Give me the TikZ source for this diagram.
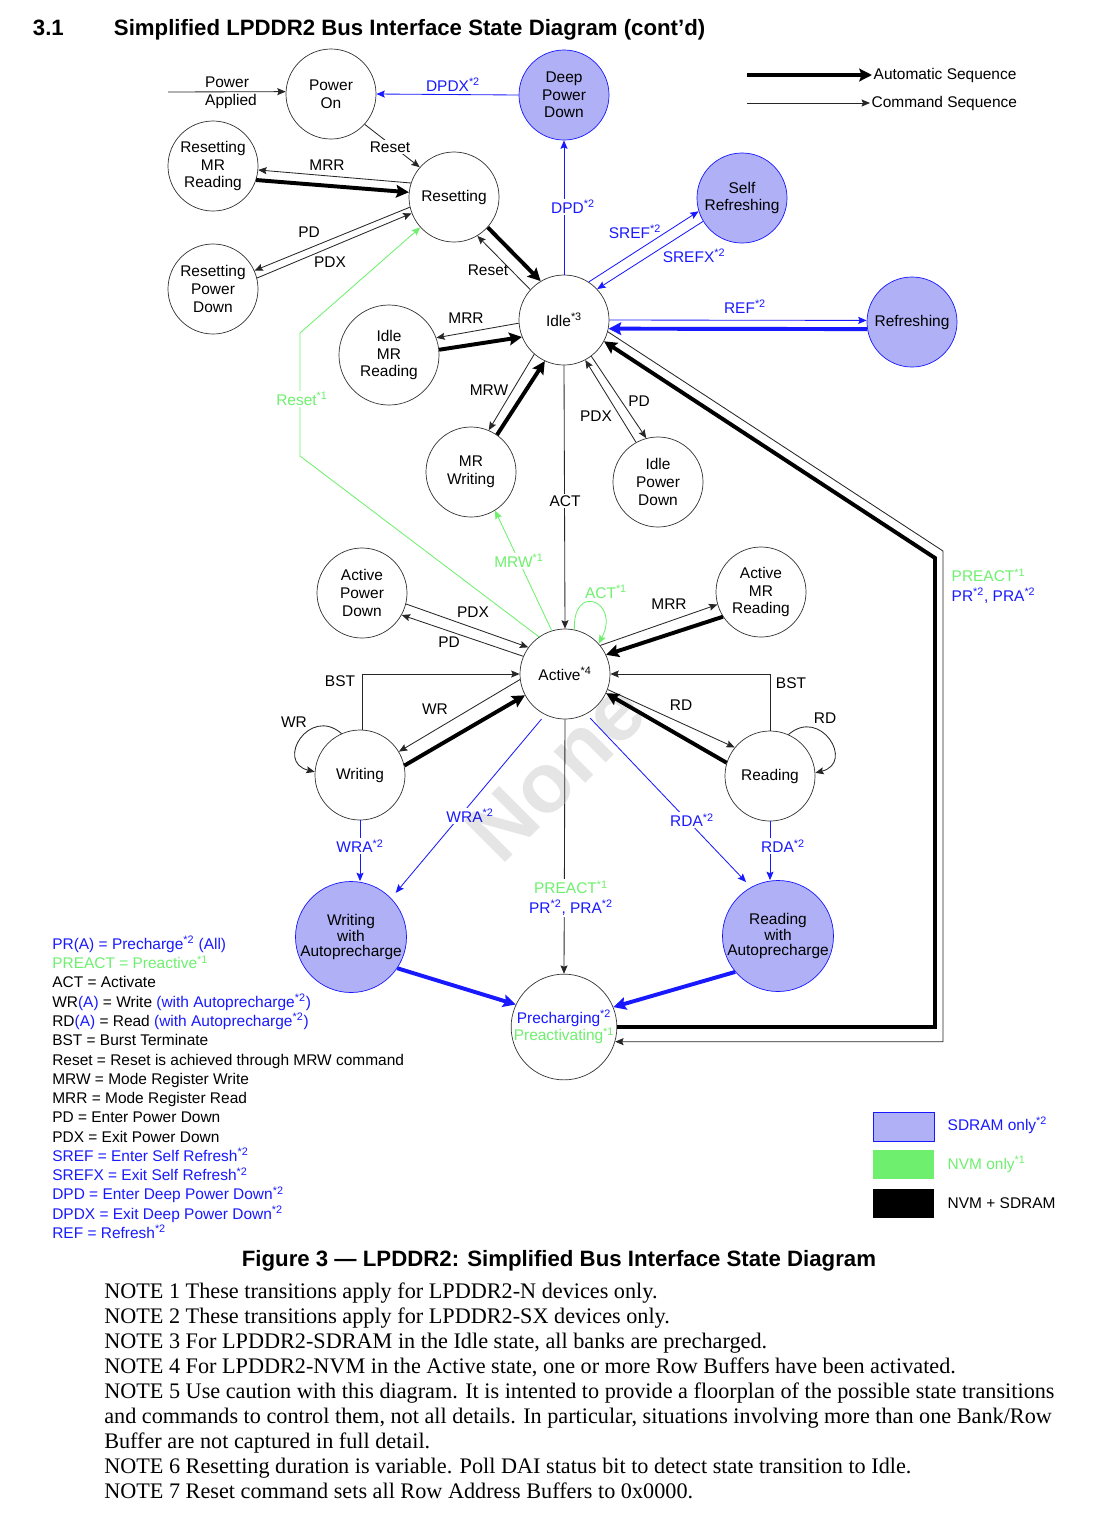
\documentclass[tikz,border=0pt]{standalone}
\usepackage{fontspec}
\setmainfont{Liberation Sans}
\newfontfamily\notefont{Liberation Serif}
\usetikzlibrary{arrows.meta}
\definecolor{sdram}{RGB}{25,25,255}
\definecolor{sdfill}{RGB}{176,176,246}
\definecolor{nvm}{RGB}{110,240,110}
\newcommand{\snote}[1]{\textsuperscript{*#1}}

\begin{document}
\begin{tikzpicture}[x=0.025cm,y=-0.025cm,
  stnode/.style={circle,draw=black!80,line width=0.5pt,fill=white,minimum size=2.25cm,inner sep=0pt,align=center,font=\fontsize{11}{12.5}\selectfont},
  sdnode/.style={stnode,draw=sdram,fill=sdfill},
  apnode/.style={sdnode,minimum size=2.75cm,font=\fontsize{11}{11.2}\selectfont},
  lbl/.style={inner sep=1pt,font=\fontsize{11}{13}\selectfont},
  cmdseq/.style={draw=black!85,line width=0.6pt,-{Stealth[length=6pt,width=5pt,inset=1pt]}},
  autoseq/.style={line width=2.8pt,-{Stealth[length=9pt,width=9pt,inset=1.5pt]}},
  sdcmd/.style={cmdseq,draw=sdram},
  sdauto/.style={autoseq,draw=sdram},
  nvmcmd/.style={cmdseq,draw=nvm}]
\useasboundingbox (0,0) rectangle (1104,1522);

% titre
\node[anchor=base west,font=\fontsize{15.8}{18}\selectfont\bfseries] (secno) at (28,35) {3.1};
\node[anchor=base west,font=\fontsize{15.8}{18}\selectfont\bfseries] (title) at (109,35) {Simplified LPDDR2 Bus Interface State Diagram (cont'd)};

% etats
\node[stnode] (pon) at (331,94) {Power\\On};
\node[sdnode] (dpd) at (564,95) {Deep\\Power\\Down};
\node[stnode] (rmrr) at (213,166) {Resetting\\MR\\Reading};
\node[stnode] (rst) at (454,197) {Resetting};
\node[stnode] (rpd) at (213,289) {Resetting\\Power\\Down};
\node[sdnode] (sref) at (742,198) {Self\\Refreshing};
\node[stnode] (idle) at (564,320) {Idle\snote{3}};
\node[sdnode] (ref) at (912,322) {Refreshing};
\node[stnode,minimum size=2.5cm] (imrr) at (389,355) {Idle\\MR\\Reading};
\node[stnode] (mrw) at (471,472) {MR\\Writing};
\node[stnode] (ipd) at (658,482) {Idle\\Power\\Down};
\node[stnode] (apd) at (362,593) {Active\\Power\\Down};
\node[stnode] (amrr) at (761,592) {Active\\MR\\Reading};
\node[stnode] (act) at (565,674) {Active\snote{4}};
\node[stnode] (wr) at (360,775) {Writing};
\node[stnode] (rd) at (770,776) {Reading};
\node[apnode] (wra) at (351,937) {Writing\\with\\Autoprecharge};
\node[apnode] (rda) at (778,936) {Reading\\with\\Autoprecharge};
\node[stnode,minimum size=2.6cm] (pre) at (564,1027) {\color{sdram}Precharging\snote{2}\\\color{nvm}Preactivating\snote{1}};

% fleches : mise sous tension / reset
\coordinate (pwrin) at (168,92);
\draw[cmdseq] (pwrin) -- (pon.177);
\draw[sdcmd] (dpd.180) -- (pon.0);
\draw[cmdseq] (pon.-42) -- (rst.139);
\draw[cmdseq] (rst.162) -- (rmrr.-5);
\draw[autoseq] (rmrr.-18) -- (rst.174);
\draw[cmdseq] (rst.193) -- (rpd.24);
\draw[cmdseq] (rpd.14) -- (rst.201);
\draw[autoseq] (rst.-42) -- (idle.121);
\draw[cmdseq] (idle.138) -- (rst.-59);
\coordinate (rsa) at (300,456);
\coordinate (rsb) at (300,333);
\draw[nvmcmd] (act.125) -- (rsa) -- (rsb) -- (rst.222);

% fleches : idle
\draw[sdcmd] (idle.north) -- (dpd.south);
\draw[sdcmd] (idle.57) -- (sref.197);
\draw[sdcmd] (sref.211) -- (idle.43);
\draw[sdcmd] (idle.0) -- (ref.178);
\draw[sdauto] (ref.189) -- (idle.-11);
\draw[cmdseq] (idle.184) -- (imrr.20);
\draw[autoseq] (imrr.6) -- (idle.202);
\draw[cmdseq] (idle.229) -- (mrw.67);
\draw[autoseq] (mrw.55) -- (idle.245);
\draw[cmdseq] (idle.-53) -- (ipd.105);
\draw[cmdseq] (ipd.119) -- (idle.-62);
\draw[cmdseq] (idle.south) -- (act.north);

% fleches : active
\draw[cmdseq] (apd.-14) -- (act.144);
\draw[cmdseq] (act.157) -- (apd.-29);
\draw[nvmcmd] (act.107) -- (mrw.-58);
\draw[nvmcmd] (act.78) .. controls +(-2,-48) and +(22,-42) .. (act.42);
\draw[cmdseq] (act.39) -- (amrr.196);
\draw[autoseq] (amrr.213) -- (act.25);
\draw[cmdseq] (wr.87) |- (act.180);
\draw[cmdseq] (rd.90) |- (act.0);
\draw[cmdseq] (act.187) -- (wr.31);
\draw[autoseq] (wr.12) -- (act.208);
\draw[cmdseq] (act.-20) -- (rd.141);
\draw[autoseq] (rd.163) -- (act.-25);
\draw[cmdseq] (wr.114) .. controls +(-32,-28) and +(-40,-10) .. (wr.176);
\draw[cmdseq] (rd.66) .. controls +(32,-28) and +(40,-10) .. (rd.4);

% fleches : precharge
\draw[sdcmd] (wr.south) -- (wr.south |- wra.north);
\draw[sdcmd] (rd.south) -- (rd.south |- rda.north);
\draw[sdcmd,shorten <=4pt,shorten >=5pt] (act.244) -- (wra.44);
\draw[sdcmd,shorten <=4pt,shorten >=5pt] (act.-62) -- (rda.119);
\draw[cmdseq] (act.south) -- (pre.north);
\draw[sdauto] (wra.-34) -- (pre.155);
\draw[sdauto] (rda.220) -- (pre.22);
\coordinate (thk) at (935,558);
\coordinate (thn) at (943,551);
\draw[autoseq] (pre.0) -| (thk) -- (idle.-28);
\draw[cmdseq] (idle.-15) -- (thn) |- (pre.-16);

% etiquettes
\node[lbl] (lpw) at (227,82) {Power};
\node[lbl] (lap) at (231,101) {Applied};
\node[lbl,text=sdram] (ldpdx) at (453,85) {DPDX\snote{2}};
\node[lbl,fill=white] (lrst1) at (390,147) {Reset};
\node[lbl] (lmrr1) at (327,165) {MRR};
\node[lbl] (lpd1) at (309,232) {PD};
\node[lbl] (lpdx1) at (330,262) {PDX};
\node[lbl] (lrst2) at (488,270) {Reset};
\node[lbl,text=sdram,fill=white] (ldpd) at (573,207) {DPD\snote{2}};
\node[lbl,text=sdram] (lsref) at (635,232) {SREF\snote{2}};
\node[lbl,text=sdram] (lsrefx) at (694,256) {SREFX\snote{2}};
\node[lbl,text=sdram] (lref) at (745,307) {REF\snote{2}};
\node[lbl] (lmrr2) at (466,318) {MRR};
\node[lbl] (lmrw) at (489,390) {MRW};
\node[lbl] (lpd2) at (639,401) {PD};
\node[lbl] (lpdx2) at (596,416) {PDX};
\node[lbl,fill=white] (lact) at (565,501) {ACT};
\node[lbl,text=nvm,fill=white] (lrst3) at (302,399) {Reset\snote{1}};
\node[lbl,text=nvm,fill=white] (lmrw2) at (519,561) {MRW\snote{1}};
\node[lbl,text=nvm] (lact2) at (606,592) {ACT\snote{1}};
\node[lbl] (lpdx3) at (473,612) {PDX};
\node[lbl] (lpd3) at (449,642) {PD};
\node[lbl] (lmrr3) at (669,604) {MRR};
\node[lbl] (lbst1) at (340,681) {BST};
\node[lbl] (lbst2) at (791,683) {BST};
\node[lbl] (lwr1) at (435,709) {WR};
\node[lbl] (lwr2) at (294,722) {WR};
\node[lbl] (lrd1) at (681,705) {RD};
\node[lbl] (lrd2) at (825,718) {RD};
\node[lbl,text=sdram,fill=white] (lwra1) at (470,816) {WRA\snote{2}};
\node[lbl,text=sdram,fill=white] (lwra2) at (360,846) {WRA\snote{2}};
\node[lbl,text=sdram,fill=white] (lrda1) at (692,820) {RDA\snote{2}};
\node[lbl,text=sdram,fill=white] (lrda2) at (783,846) {RDA\snote{2}};
\node[lbl,fill=white,align=center,font=\fontsize{11}{14}\selectfont] (lpre) at (571,898) {{\color{nvm}PREACT\snote{1}}\\{\color{sdram}PR\snote{2}, PRA\snote{2}}};
\node[lbl,anchor=north west,align=left,font=\fontsize{11}{14}\selectfont] (lpre2) at (950,567) {{\color{nvm}PREACT\snote{1}}\\{\color{sdram}PR\snote{2}, PRA\snote{2}}};

% legende des fleches
\node[lbl,anchor=west] (laseq) at (872,75) {Automatic Sequence};
\node[lbl,anchor=west] (lcseq) at (870,103) {Command Sequence};
\coordinate (aseq0) at (747,75);
\coordinate (cseq0) at (747,103);
\draw[autoseq] (aseq0) -- (laseq.west);
\draw[cmdseq] (cseq0) -- (lcseq.west);

% legende des couleurs
\node[draw=sdram,fill=sdfill,line width=1pt,minimum width=1.525cm,minimum height=0.725cm,inner sep=0pt,anchor=north west] (ksd) at (873,1112) {};
\node[fill=nvm,minimum width=1.525cm,minimum height=0.725cm,inner sep=0pt,anchor=north west] (knvm) at (873,1150) {};
\node[fill=black,minimum width=1.525cm,minimum height=0.725cm,inner sep=0pt,anchor=north west] (kall) at (873,1189) {};
\node[lbl,anchor=base west,text=sdram] (lksd) at (946,1130) {SDRAM only\snote{2}};
\node[lbl,anchor=base west,text=nvm] (lknvm) at (946,1169) {NVM only\snote{1}};
\node[lbl,anchor=base west] (lkall) at (946,1208) {NVM + SDRAM};

% abreviations
\node[lbl,anchor=north west,align=left,inner sep=0pt,font=\fontsize{11}{13.7}\selectfont] (abbr) at (52,936) {%
{\color{sdram}PR(A) = Precharge\snote{2} (All)}\\
{\color{nvm}PREACT = Preactive\snote{1}}\\
ACT = Activate\\
WR{\color{sdram}(A)} = Write {\color{sdram}(with Autoprecharge\snote{2})}\\
RD{\color{sdram}(A)} = Read {\color{sdram}(with Autoprecharge\snote{2})}\\
BST = Burst Terminate\\
Reset = Reset is achieved through MRW command\\
MRW = Mode Register Write\\
MRR = Mode Register Read\\
PD = Enter Power Down\\
PDX = Exit Power Down\\
{\color{sdram}SREF = Enter Self Refresh\snote{2}}\\
{\color{sdram}SREFX = Exit Self Refresh\snote{2}}\\
{\color{sdram}DPD = Enter Deep Power Down\snote{2}}\\
{\color{sdram}DPDX = Exit Deep Power Down\snote{2}}\\
{\color{sdram}REF = Refresh\snote{2}}};

% legende de la figure et notes
\node[anchor=base,font=\fontsize{15.8}{18}\selectfont\bfseries] (cap) at (559,1266) {Figure 3 --- LPDDR2: Simplified Bus Interface State Diagram};
\node[anchor=north west,align=left,inner sep=0pt,font=\notefont\fontsize{15.8}{17.7}\selectfont] (notes) at (104,1283) {%
NOTE 1 These transitions apply for LPDDR2-N devices only.\\
NOTE 2 These transitions apply for LPDDR2-SX devices only.\\
NOTE 3 For LPDDR2-SDRAM in the Idle state, all banks are precharged.\\
NOTE 4 For LPDDR2-NVM in the Active state, one or more Row Buffers have been activated.\\
NOTE 5 Use caution with this diagram. It is intented to provide a floorplan of the possible state transitions\\
and commands to control them, not all details. In particular, situations involving more than one Bank/Row\\
Buffer are not captured in full detail.\\
NOTE 6 Resetting duration is variable. Poll DAI status bit to detect state transition to Idle.\\
NOTE 7 Reset command sets all Row Address Buffers to 0x0000.};

% filigrane
\node[rotate=45,font=\fontsize{60}{60}\selectfont\bfseries,text=black,text opacity=0.1] (wmark) at (556,772) {None};
\end{tikzpicture}
\end{document}
